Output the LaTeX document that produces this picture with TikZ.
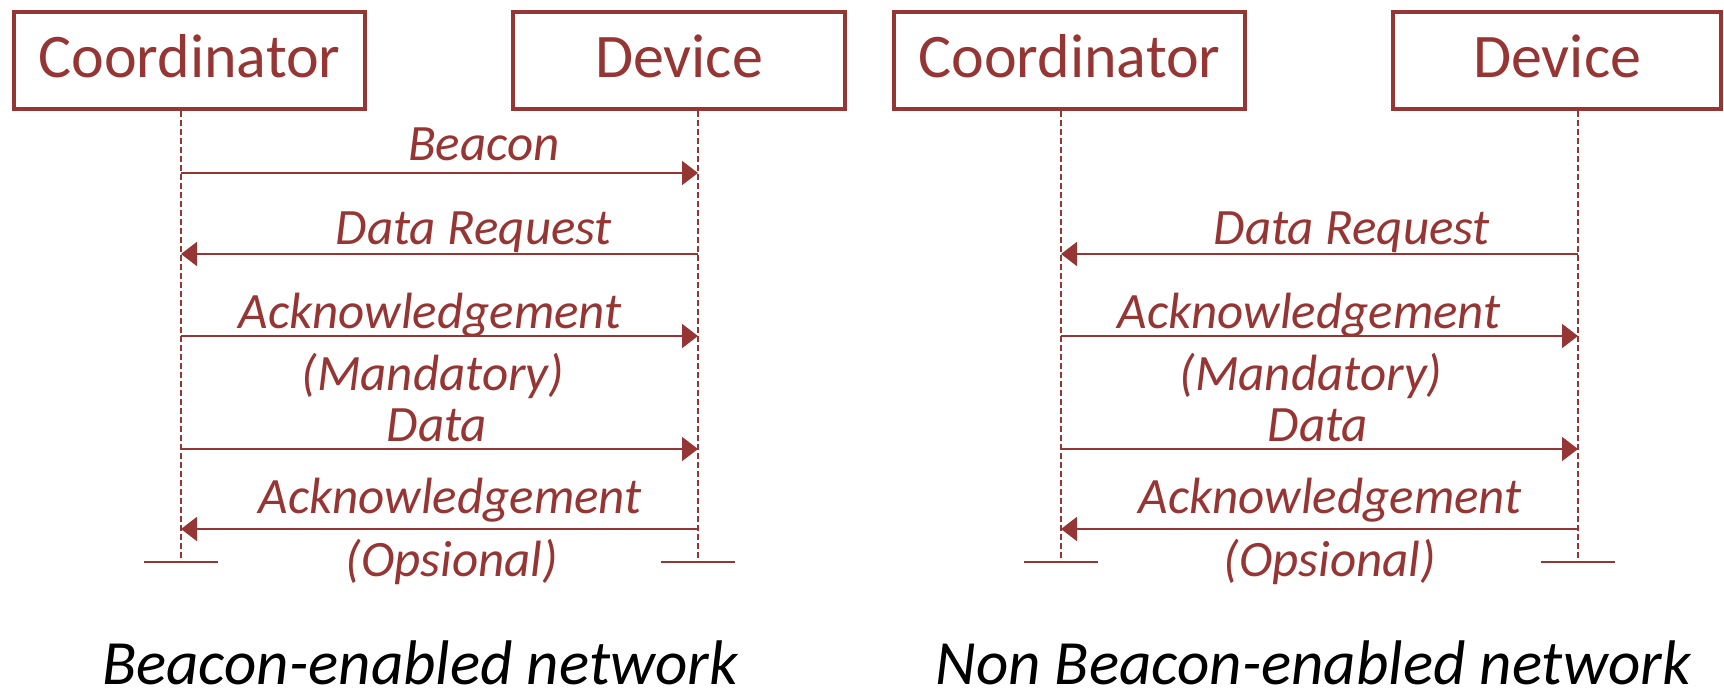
\documentclass[tikz,border=0pt]{standalone}
\usepackage{fontspec}
\setmainfont{Carlito}
\usetikzlibrary{arrows.meta}
\definecolor{seqred}{RGB}{150,54,52}
\tikzset{
  actor/.style={draw=seqred, line width=4pt, minimum height=97pt, inner sep=0pt,
    text=seqred, font=\fontsize{62}{70}\selectfont, text height=44pt, text depth=10pt},
  lifeline/.style={draw=seqred, line width=2pt, dash pattern=on 6pt off 3pt},
  msg/.style={draw=seqred, line width=2pt, -{Triangle[length=16pt,width=24pt]}},
  endbar/.style={draw=seqred, line width=2pt},
  msglabel/.style={anchor=base, inner sep=0pt, text=seqred,
    font=\fontsize{51}{60}\selectfont\itshape},
  caption/.style={anchor=base, inner sep=0pt, text depth=0pt,
    font=\fontsize{63}{70}\selectfont\itshape},
}
\begin{document}
\begin{tikzpicture}[x=1pt,y=-1pt]
\useasboundingbox (0,0) rectangle (1724,691);

% ---------------- beacon-enabled network ----------------
\node[actor, minimum width=351pt] (coordA) at (189.5,60.5) {Coordinator};
\node[actor, minimum width=332pt] (devA) at (679,60.5) {Device};
\coordinate (endCA) at (181,562);
\coordinate (endDA) at (698,562);
\draw[lifeline] (coordA.south -| endCA) -- (endCA);
\draw[lifeline] (devA.south -| endDA) -- (endDA);
\draw[endbar] ([xshift=-37pt]endCA) -- ([xshift=37pt]endCA);
\draw[endbar] ([xshift=-37pt]endDA) -- ([xshift=37pt]endDA);

\coordinate (cA1) at (181,173); \coordinate (dA1) at (698,173);
\coordinate (cA2) at (181,254); \coordinate (dA2) at (698,254);
\coordinate (cA3) at (181,336); \coordinate (dA3) at (698,336);
\coordinate (cA4) at (181,449); \coordinate (dA4) at (698,449);
\coordinate (cA5) at (181,529); \coordinate (dA5) at (698,529);

\draw[msg] (cA1) -- (dA1);
\draw[msg] (dA2) -- (cA2);
\draw[msg] (cA3) -- (dA3);
\draw[msg] (cA4) -- (dA4);
\draw[msg] (dA5) -- (cA5);

\node[msglabel] (lA1) at (484,160.5) {Beacon};
\node[msglabel] (lA2) at (474,244) {Data Request};
\node[msglabel] (lA3) at (430,328) {Acknowledgement};
\node[msglabel] (lA3b) at (433,390) {(Mandatory)};
\node[msglabel] (lA4) at (437,441) {Data};
\node[msglabel] (lA5) at (450,513) {Acknowledgement};
\node[msglabel] (lA5b) at (452,576) {(Opsional)};

\node[caption] (capA) at (420,684) {Beacon-enabled network};

% ---------------- non beacon-enabled network ----------------
\node[actor, minimum width=351pt] (coordB) at (1069.5,60.5) {Coordinator};
\node[actor, minimum width=328pt] (devB) at (1557,60.5) {Device};
\coordinate (endCB) at (1061,562);
\coordinate (endDB) at (1578,562);
\draw[lifeline] (coordB.south -| endCB) -- (endCB);
\draw[lifeline] (devB.south -| endDB) -- (endDB);
\draw[endbar] ([xshift=-37pt]endCB) -- ([xshift=37pt]endCB);
\draw[endbar] ([xshift=-37pt]endDB) -- ([xshift=37pt]endDB);

\coordinate (cB2) at (1061,254); \coordinate (dB2) at (1578,254);
\coordinate (cB3) at (1061,336); \coordinate (dB3) at (1578,336);
\coordinate (cB4) at (1061,449); \coordinate (dB4) at (1578,449);
\coordinate (cB5) at (1061,529); \coordinate (dB5) at (1578,529);

\draw[msg] (dB2) -- (cB2);
\draw[msg] (cB3) -- (dB3);
\draw[msg] (cB4) -- (dB4);
\draw[msg] (dB5) -- (cB5);

\node[msglabel] (lB2) at (1352,244) {Data Request};
\node[msglabel] (lB3) at (1309,328) {Acknowledgement};
\node[msglabel] (lB3b) at (1311,390) {(Mandatory)};
\node[msglabel] (lB4) at (1318,441) {Data};
\node[msglabel] (lB5) at (1330,513) {Acknowledgement};
\node[msglabel] (lB5b) at (1330,576) {(Opsional)};

\node[caption] (capB) at (1313,684) {Non Beacon-enabled network};
\end{tikzpicture}
\end{document}
